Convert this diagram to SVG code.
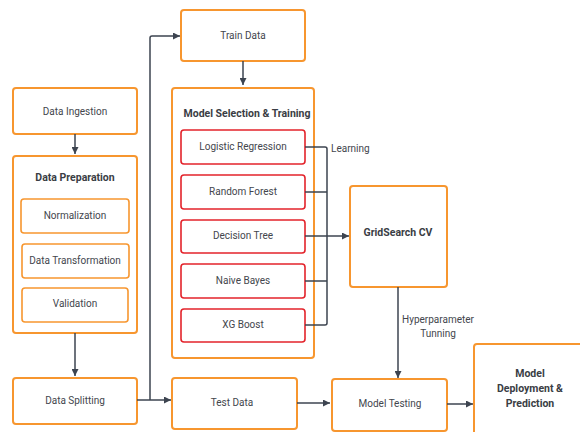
<svg xmlns="http://www.w3.org/2000/svg" width="580" height="432" viewBox="0 0 580 432">
<defs>
<style>
.o{fill:#fff;stroke:#f7962f;stroke-width:2}
.oi{fill:#fff;stroke:#f7962f;stroke-width:1.6}
.r{fill:#fff;stroke:#e3232b;stroke-width:1.6}
.t{font-family:Roboto,"Liberation Sans",sans-serif;font-size:10px;fill:#43464d;text-anchor:middle}
.b{font-family:Roboto,"Liberation Sans",sans-serif;font-size:10.5px;font-weight:bold;fill:#3a3d44;text-anchor:middle}
.c{fill:none;stroke:#3d4450;stroke-width:1.5}
</style>
<marker id="ah" viewBox="0 0 10 10" refX="10" refY="5" markerWidth="7" markerHeight="7" markerUnits="userSpaceOnUse" orient="auto"><path d="M0,0L10,5L0,10z" fill="#3d4450"/></marker>
</defs>
<g id="train-data"><rect class="o" x="181" y="10" width="124" height="51" rx="3"/><text class="t" x="243" y="39">Train Data</text></g>
<g id="model-selection"><rect class="o" x="172" y="88" width="142" height="270" rx="3"/><text class="b" x="247" y="117">Model Selection &amp; Training</text></g>
<g id="logistic"><rect class="r" x="181" y="130" width="124" height="34" rx="3"/><text class="t" x="243" y="150">Logistic Regression</text></g>
<g id="random-forest"><rect class="r" x="181" y="175" width="124" height="34" rx="3"/><text class="t" x="243" y="195">Random Forest</text></g>
<g id="decision-tree"><rect class="r" x="181" y="220" width="124" height="33" rx="3"/><text class="t" x="243" y="239">Decision Tree</text></g>
<g id="naive-bayes"><rect class="r" x="181" y="264" width="124" height="34" rx="3"/><text class="t" x="243" y="284">Naive Bayes</text></g>
<g id="xg-boost"><rect class="r" x="181" y="309" width="124" height="33" rx="3"/><text class="t" x="243" y="328">XG Boost</text></g>
<g id="data-ingestion"><rect class="o" x="13" y="88" width="124" height="46" rx="3"/><text class="t" x="75" y="115">Data Ingestion</text></g>
<g id="data-preparation"><rect class="o" x="13" y="156" width="124" height="177" rx="3"/><text class="b" x="75" y="181">Data Preparation</text></g>
<g id="normalization"><rect class="oi" x="21" y="199" width="108" height="34" rx="3"/><text class="t" x="75" y="219">Normalization</text></g>
<g id="data-transformation"><rect class="oi" x="22" y="244" width="107" height="34" rx="3"/><text class="t" x="75" y="264">Data Transformation</text></g>
<g id="validation"><rect class="oi" x="22" y="288" width="106" height="34" rx="3"/><text class="t" x="75" y="307">Validation</text></g>
<g id="data-splitting"><rect class="o" x="13" y="378" width="124" height="46" rx="3"/><text class="t" x="75" y="404">Data Splitting</text></g>
<g id="test-data"><rect class="o" x="172" y="378" width="125" height="51" rx="3"/><text class="t" x="232" y="406">Test Data</text></g>
<g id="gridsearch"><rect class="o" x="350" y="186" width="97" height="101" rx="3"/><text class="b" x="398" y="236">GridSearch CV</text></g>
<g id="model-testing"><rect class="o" x="332" y="379" width="115" height="52" rx="3"/><text class="t" x="390" y="407">Model Testing</text></g>
<g id="model-deployment"><rect class="o" x="474" y="344" width="112" height="95" rx="3"/><text class="b" x="530" y="377">Model</text><text class="b" x="530" y="392">Deployment &amp;</text><text class="b" x="530" y="407">Prediction</text></g>
<g id="connectors">
<path class="c" d="M243,61V85" marker-end="url(#ah)"/>
<path class="c" d="M75,134V154" marker-end="url(#ah)"/>
<path class="c" d="M75,333V376" marker-end="url(#ah)"/>
<path class="c" d="M137,400H171" marker-end="url(#ah)"/>
<path class="c" d="M150,400V38Q150,36 152,36H180" marker-end="url(#ah)"/>
<path class="c" d="M297,403H330" marker-end="url(#ah)"/>
<path class="c" d="M447,404H473" marker-end="url(#ah)"/>
<path class="c" d="M305,147H325Q327,147 327,149V323Q327,325 325,325H305"/>
<path class="c" d="M305,192H327M305,236H327M305,281H327"/>
<path class="c" d="M327,236H349" marker-end="url(#ah)"/>
<path class="c" d="M398,287V378" marker-end="url(#ah)"/>
<text class="t" x="331" y="152" style="text-anchor:start">Learning</text>
<text class="t" x="438" y="323">Hyperparameter</text>
<text class="t" x="438" y="337">Tunning</text>
</g>
</svg>
